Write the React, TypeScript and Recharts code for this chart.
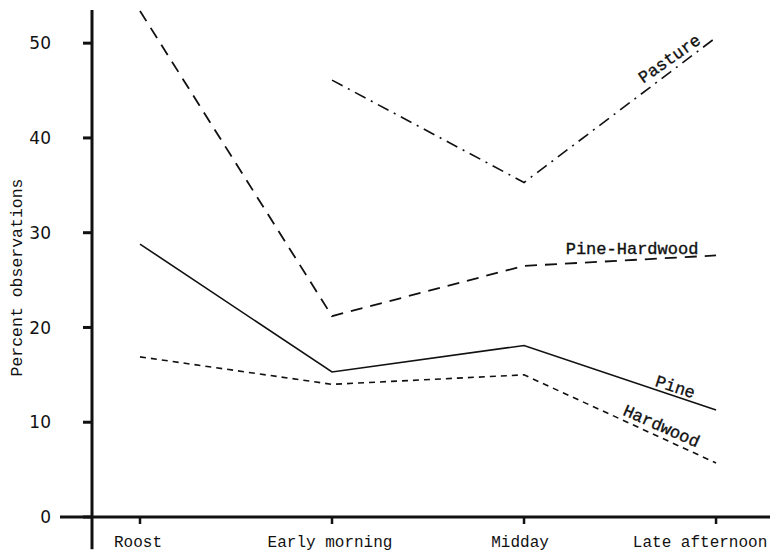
import React from "react";
import { LineChart, Line, XAxis, YAxis, ReferenceLine, LabelList } from "recharts";

const categories = ["Roost", "Early morning", "Midday", "Late afternoon"];
const pine = [28.8, 15.3, 18.1, 11.3];
const pineHardwood = [53.4, 21.2, 26.5, 27.6];
const hardwood = [16.9, 14.0, 15.0, 5.7];
const pasture: (number | null)[] = [null, 46.1, 35.3, 50.6];
const yTicks = [0, 10, 20, 30, 40, 50];

const data = categories.map((c, i) => ({
  idx: i,
  name: c,
  pine: pine[i],
  pineHardwood: pineHardwood[i],
  hardwood: hardwood[i],
  pasture: pasture[i],
}));

const MONO = "'Liberation Mono', 'DejaVu Sans Mono', monospace";

const endLabel = (text: string, dx: number, dy: number, angle: number) => (props: any) => {
  if (props.index !== categories.length - 1) return null;
  const x = props.x + dx;
  const y = props.y + dy;
  return (
    <text
      x={x}
      y={y}
      transform={`rotate(${angle}, ${x}, ${y})`}
      textAnchor="middle"
      dominantBaseline="middle"
      fontFamily={MONO}
      fontSize={17}
      stroke="#111"
      strokeWidth={0.35}
      fill="#111"
    >
      {text}
    </text>
  );
};

const yLabel = (props: any) => {
  const vb = props.viewBox;
  const x = vb.x - 14;
  const y = vb.y + vb.height / 2 + 14;
  return (
    <text
      x={x}
      y={y}
      transform={`rotate(-90, ${x}, ${y})`}
      textAnchor="middle"
      dominantBaseline="middle"
      fontFamily={MONO}
      fontSize={16.5}
      fill="#111"
    >
      Percent observations
    </text>
  );
};

const xTickShift = [-2, -2, -4, -16];

const XTick = (props: any) => {
  const i = props.payload.value as number;
  return (
    <text
      x={props.x + (xTickShift[i] ?? 0)}
      y={props.y}
      dy="0.71em"
      textAnchor="middle"
      fontFamily={MONO}
      fontSize={16}
      fill="#111"
    >
      {categories[i] ?? ""}
    </text>
  );
};

export default function App() {
  return (
    <div style={{ background: "#fff" }}>
      <LineChart
        width={774}
        height={549}
        data={data}
        margin={{ top: 2, right: 12, bottom: 0, left: 24 }}
      >
        <XAxis
          dataKey="idx"
          type="number"
          domain={[-0.25, 3.281]}
          allowDataOverflow
          ticks={[0, 1, 2, 3]}
          height={40}
          axisLine={{ stroke: "#111", strokeWidth: 3 }}
          tickLine={{ stroke: "#111", strokeWidth: 2.5 }}
          tickSize={7}
          tickMargin={12}
          tick={<XTick />}
        />
        <YAxis
          type="number"
          domain={[0, 53.5]}
          allowDataOverflow
          ticks={yTicks}
          width={60}
          axisLine={{ stroke: "#111", strokeWidth: 3 }}
          tickLine={{ stroke: "#111", strokeWidth: 3 }}
          tickSize={9}
          tickMargin={32}
          tick={{ fill: "#111", fontFamily: "'DejaVu Sans', sans-serif", fontSize: 17 }}
          label={yLabel}
        />
        <ReferenceLine
          segment={[{ x: -0.4167, y: 0 }, { x: -0.25, y: 0 }]}
          ifOverflow="visible"
          stroke="#111"
          strokeWidth={3}
        />
        <ReferenceLine
          segment={[{ x: -0.25, y: 0 }, { x: -0.25, y: -3.4 }]}
          ifOverflow="visible"
          stroke="#111"
          strokeWidth={3}
        />
        <Line
          dataKey="pine"
          stroke="#111"
          strokeWidth={1.6}
          dot={false}
          isAnimationActive={false}
        >
          <LabelList dataKey="pine" content={endLabel("Pine", -41, -22, 18)} />
        </Line>
        <Line
          dataKey="pineHardwood"
          stroke="#111"
          strokeWidth={1.8}
          strokeDasharray="12 8"
          dot={false}
          isAnimationActive={false}
        >
          <LabelList dataKey="pineHardwood" content={endLabel("Pine-Hardwood", -84, -6, 0)} />
        </Line>
        <Line
          dataKey="hardwood"
          stroke="#111"
          strokeWidth={1.6}
          strokeDasharray="6 5"
          dot={false}
          isAnimationActive={false}
        >
          <LabelList dataKey="hardwood" content={endLabel("Hardwood", -55, -36, 24)} />
        </Line>
        <Line
          dataKey="pasture"
          stroke="#111"
          strokeWidth={1.6}
          strokeDasharray="12 6 2 6"
          dot={false}
          connectNulls={false}
          isAnimationActive={false}
        >
          <LabelList dataKey="pasture" content={endLabel("Pasture", -46, 22, -35)} />
        </Line>
      </LineChart>
    </div>
  );
}
